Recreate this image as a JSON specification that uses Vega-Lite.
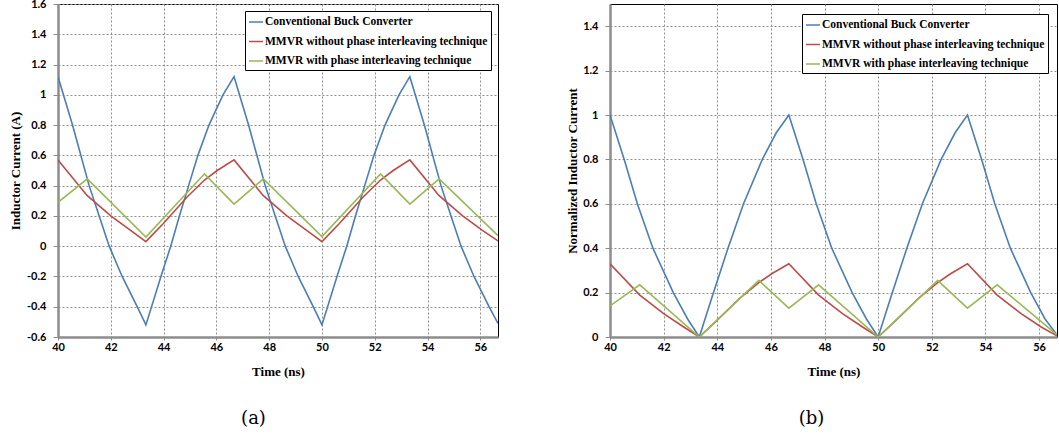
{
  "$schema": "https://vega.github.io/schema/vega-lite/v6.json",
  "padding": {"left": 8, "top": -3, "right": 0, "bottom": 0},
  "bounds": "flush",
  "spacing": 112,
  "datasets": {
    "a": [
      {"time": 40, "current": 1.12, "series": "Conventional Buck Converter"},
      {"time": 40.55, "current": 0.8, "series": "Conventional Buck Converter"},
      {"time": 41.18, "current": 0.4, "series": "Conventional Buck Converter"},
      {"time": 41.56, "current": 0.2, "series": "Conventional Buck Converter"},
      {"time": 41.94, "current": 0.0, "series": "Conventional Buck Converter"},
      {"time": 42.43, "current": -0.2, "series": "Conventional Buck Converter"},
      {"time": 43.0, "current": -0.4, "series": "Conventional Buck Converter"},
      {"time": 43.33, "current": -0.52, "series": "Conventional Buck Converter"},
      {"time": 43.9, "current": -0.2, "series": "Conventional Buck Converter"},
      {"time": 44.27, "current": 0.0, "series": "Conventional Buck Converter"},
      {"time": 44.6, "current": 0.2, "series": "Conventional Buck Converter"},
      {"time": 44.95, "current": 0.4, "series": "Conventional Buck Converter"},
      {"time": 45.3, "current": 0.6, "series": "Conventional Buck Converter"},
      {"time": 45.72, "current": 0.8, "series": "Conventional Buck Converter"},
      {"time": 46.25, "current": 1.0, "series": "Conventional Buck Converter"},
      {"time": 46.67, "current": 1.12, "series": "Conventional Buck Converter"},
      {"time": 47.22, "current": 0.8, "series": "Conventional Buck Converter"},
      {"time": 47.85, "current": 0.4, "series": "Conventional Buck Converter"},
      {"time": 48.23, "current": 0.2, "series": "Conventional Buck Converter"},
      {"time": 48.61, "current": 0.0, "series": "Conventional Buck Converter"},
      {"time": 49.1, "current": -0.2, "series": "Conventional Buck Converter"},
      {"time": 49.67, "current": -0.4, "series": "Conventional Buck Converter"},
      {"time": 50.0, "current": -0.52, "series": "Conventional Buck Converter"},
      {"time": 50.57, "current": -0.2, "series": "Conventional Buck Converter"},
      {"time": 50.94, "current": 0.0, "series": "Conventional Buck Converter"},
      {"time": 51.27, "current": 0.2, "series": "Conventional Buck Converter"},
      {"time": 51.62, "current": 0.4, "series": "Conventional Buck Converter"},
      {"time": 51.97, "current": 0.6, "series": "Conventional Buck Converter"},
      {"time": 52.39, "current": 0.8, "series": "Conventional Buck Converter"},
      {"time": 52.92, "current": 1.0, "series": "Conventional Buck Converter"},
      {"time": 53.33, "current": 1.12, "series": "Conventional Buck Converter"},
      {"time": 53.88, "current": 0.8, "series": "Conventional Buck Converter"},
      {"time": 54.51, "current": 0.4, "series": "Conventional Buck Converter"},
      {"time": 54.89, "current": 0.2, "series": "Conventional Buck Converter"},
      {"time": 55.27, "current": 0.0, "series": "Conventional Buck Converter"},
      {"time": 55.76, "current": -0.2, "series": "Conventional Buck Converter"},
      {"time": 56.33, "current": -0.4, "series": "Conventional Buck Converter"},
      {"time": 56.67, "current": -0.51, "series": "Conventional Buck Converter"},
      {"time": 40, "current": 0.57, "series": "MMVR without phase interleaving technique"},
      {"time": 41.1, "current": 0.335, "series": "MMVR without phase interleaving technique"},
      {"time": 42.0, "current": 0.2, "series": "MMVR without phase interleaving technique"},
      {"time": 42.75, "current": 0.105, "series": "MMVR without phase interleaving technique"},
      {"time": 43.33, "current": 0.03, "series": "MMVR without phase interleaving technique"},
      {"time": 43.99, "current": 0.15, "series": "MMVR without phase interleaving technique"},
      {"time": 44.89, "current": 0.325, "series": "MMVR without phase interleaving technique"},
      {"time": 45.55, "current": 0.437, "series": "MMVR without phase interleaving technique"},
      {"time": 46.03, "current": 0.5, "series": "MMVR without phase interleaving technique"},
      {"time": 46.67, "current": 0.57, "series": "MMVR without phase interleaving technique"},
      {"time": 47.77, "current": 0.335, "series": "MMVR without phase interleaving technique"},
      {"time": 48.67, "current": 0.2, "series": "MMVR without phase interleaving technique"},
      {"time": 49.42, "current": 0.105, "series": "MMVR without phase interleaving technique"},
      {"time": 50.0, "current": 0.03, "series": "MMVR without phase interleaving technique"},
      {"time": 50.66, "current": 0.15, "series": "MMVR without phase interleaving technique"},
      {"time": 51.56, "current": 0.325, "series": "MMVR without phase interleaving technique"},
      {"time": 52.22, "current": 0.437, "series": "MMVR without phase interleaving technique"},
      {"time": 52.7, "current": 0.5, "series": "MMVR without phase interleaving technique"},
      {"time": 53.33, "current": 0.57, "series": "MMVR without phase interleaving technique"},
      {"time": 54.43, "current": 0.335, "series": "MMVR without phase interleaving technique"},
      {"time": 55.33, "current": 0.2, "series": "MMVR without phase interleaving technique"},
      {"time": 56.08, "current": 0.105, "series": "MMVR without phase interleaving technique"},
      {"time": 56.67, "current": 0.035, "series": "MMVR without phase interleaving technique"},
      {"time": 40, "current": 0.29, "series": "MMVR with phase interleaving technique"},
      {"time": 41.11, "current": 0.445, "series": "MMVR with phase interleaving technique"},
      {"time": 43.33, "current": 0.06, "series": "MMVR with phase interleaving technique"},
      {"time": 45.55, "current": 0.478, "series": "MMVR with phase interleaving technique"},
      {"time": 46.67, "current": 0.278, "series": "MMVR with phase interleaving technique"},
      {"time": 47.78, "current": 0.445, "series": "MMVR with phase interleaving technique"},
      {"time": 50.0, "current": 0.063, "series": "MMVR with phase interleaving technique"},
      {"time": 52.22, "current": 0.478, "series": "MMVR with phase interleaving technique"},
      {"time": 53.33, "current": 0.278, "series": "MMVR with phase interleaving technique"},
      {"time": 54.44, "current": 0.445, "series": "MMVR with phase interleaving technique"},
      {"time": 56.67, "current": 0.07, "series": "MMVR with phase interleaving technique"}
    ],
    "b": [
      {"time": 40, "current": 1.0, "series": "Conventional Buck Converter"},
      {"time": 40.53, "current": 0.8, "series": "Conventional Buck Converter"},
      {"time": 41.02, "current": 0.6, "series": "Conventional Buck Converter"},
      {"time": 41.6, "current": 0.4, "series": "Conventional Buck Converter"},
      {"time": 42.36, "current": 0.2, "series": "Conventional Buck Converter"},
      {"time": 42.9, "current": 0.08, "series": "Conventional Buck Converter"},
      {"time": 43.33, "current": 0.0, "series": "Conventional Buck Converter"},
      {"time": 43.86, "current": 0.2, "series": "Conventional Buck Converter"},
      {"time": 44.4, "current": 0.4, "series": "Conventional Buck Converter"},
      {"time": 44.98, "current": 0.6, "series": "Conventional Buck Converter"},
      {"time": 45.68, "current": 0.8, "series": "Conventional Buck Converter"},
      {"time": 46.2, "current": 0.92, "series": "Conventional Buck Converter"},
      {"time": 46.67, "current": 1.0, "series": "Conventional Buck Converter"},
      {"time": 47.2, "current": 0.8, "series": "Conventional Buck Converter"},
      {"time": 47.69, "current": 0.6, "series": "Conventional Buck Converter"},
      {"time": 48.27, "current": 0.4, "series": "Conventional Buck Converter"},
      {"time": 49.03, "current": 0.2, "series": "Conventional Buck Converter"},
      {"time": 49.57, "current": 0.08, "series": "Conventional Buck Converter"},
      {"time": 50.0, "current": 0.0, "series": "Conventional Buck Converter"},
      {"time": 50.53, "current": 0.2, "series": "Conventional Buck Converter"},
      {"time": 51.07, "current": 0.4, "series": "Conventional Buck Converter"},
      {"time": 51.65, "current": 0.6, "series": "Conventional Buck Converter"},
      {"time": 52.35, "current": 0.8, "series": "Conventional Buck Converter"},
      {"time": 52.87, "current": 0.92, "series": "Conventional Buck Converter"},
      {"time": 53.33, "current": 1.0, "series": "Conventional Buck Converter"},
      {"time": 53.86, "current": 0.8, "series": "Conventional Buck Converter"},
      {"time": 54.35, "current": 0.6, "series": "Conventional Buck Converter"},
      {"time": 54.93, "current": 0.4, "series": "Conventional Buck Converter"},
      {"time": 55.69, "current": 0.2, "series": "Conventional Buck Converter"},
      {"time": 56.23, "current": 0.08, "series": "Conventional Buck Converter"},
      {"time": 56.67, "current": 0.01, "series": "Conventional Buck Converter"},
      {"time": 40, "current": 0.33, "series": "MMVR without phase interleaving technique"},
      {"time": 41.1, "current": 0.19, "series": "MMVR without phase interleaving technique"},
      {"time": 42.0, "current": 0.105, "series": "MMVR without phase interleaving technique"},
      {"time": 42.75, "current": 0.045, "series": "MMVR without phase interleaving technique"},
      {"time": 43.33, "current": 0.0, "series": "MMVR without phase interleaving technique"},
      {"time": 43.99, "current": 0.075, "series": "MMVR without phase interleaving technique"},
      {"time": 44.89, "current": 0.18, "series": "MMVR without phase interleaving technique"},
      {"time": 45.55, "current": 0.245, "series": "MMVR without phase interleaving technique"},
      {"time": 46.03, "current": 0.285, "series": "MMVR without phase interleaving technique"},
      {"time": 46.67, "current": 0.33, "series": "MMVR without phase interleaving technique"},
      {"time": 47.77, "current": 0.19, "series": "MMVR without phase interleaving technique"},
      {"time": 48.67, "current": 0.105, "series": "MMVR without phase interleaving technique"},
      {"time": 49.42, "current": 0.045, "series": "MMVR without phase interleaving technique"},
      {"time": 50.0, "current": 0.0, "series": "MMVR without phase interleaving technique"},
      {"time": 50.66, "current": 0.075, "series": "MMVR without phase interleaving technique"},
      {"time": 51.56, "current": 0.18, "series": "MMVR without phase interleaving technique"},
      {"time": 52.22, "current": 0.245, "series": "MMVR without phase interleaving technique"},
      {"time": 52.7, "current": 0.285, "series": "MMVR without phase interleaving technique"},
      {"time": 53.33, "current": 0.33, "series": "MMVR without phase interleaving technique"},
      {"time": 54.43, "current": 0.19, "series": "MMVR without phase interleaving technique"},
      {"time": 55.33, "current": 0.105, "series": "MMVR without phase interleaving technique"},
      {"time": 56.08, "current": 0.045, "series": "MMVR without phase interleaving technique"},
      {"time": 56.67, "current": 0.005, "series": "MMVR without phase interleaving technique"},
      {"time": 40, "current": 0.14, "series": "MMVR with phase interleaving technique"},
      {"time": 41.11, "current": 0.235, "series": "MMVR with phase interleaving technique"},
      {"time": 43.33, "current": 0.0, "series": "MMVR with phase interleaving technique"},
      {"time": 45.55, "current": 0.255, "series": "MMVR with phase interleaving technique"},
      {"time": 46.67, "current": 0.13, "series": "MMVR with phase interleaving technique"},
      {"time": 47.78, "current": 0.235, "series": "MMVR with phase interleaving technique"},
      {"time": 50.0, "current": 0.0, "series": "MMVR with phase interleaving technique"},
      {"time": 52.22, "current": 0.255, "series": "MMVR with phase interleaving technique"},
      {"time": 53.33, "current": 0.13, "series": "MMVR with phase interleaving technique"},
      {"time": 54.44, "current": 0.235, "series": "MMVR with phase interleaving technique"},
      {"time": 56.67, "current": 0.01, "series": "MMVR with phase interleaving technique"}
    ]
  },
  "config": {
    "view": {"stroke": "black", "strokeWidth": 1},
    "axis": {
      "labelFont": "Lato", "labelFontWeight": "bold", "labelFontSize": 11, "labelColor": "black",
      "titleFont": "Liberation Serif", "titleFontWeight": "bold", "titleFontSize": 13, "titleColor": "black",
      "gridColor": "#8f8f8f", "gridDash": [2, 2], "gridWidth": 1, "gridOpacity": 1,
      "domainColor": "#8c8c8c", "domainWidth": 2.5,
      "tickColor": "#8c8c8c", "tickWidth": 1
    },
    "legend": {
      "labelFont": "Liberation Serif", "labelFontWeight": "bold", "labelFontSize": 11.5, "labelColor": "black",
      "labelLimit": 400, "symbolType": "stroke", "symbolSize": 196, "symbolStrokeWidth": 1.5,
      "strokeColor": "black", "fillColor": "white", "padding": 3, "rowPadding": 5.5, "labelOffset": 1, "cornerRadius": 0
    },
    "title": {"font": "DejaVu Serif", "fontSize": 18, "fontWeight": "normal", "color": "black"}
  },
  "resolve": {"scale": {"color": "independent"}, "legend": {"color": "independent"}},
  "hconcat": [
    {
      "width": 440, "height": 333,
      "title": {"text": "(a)", "orient": "bottom", "frame": "bounds", "anchor": "middle", "offset": 32},
      "data": {"name": "a"},
      "mark": {"type": "line", "strokeWidth": 1.6, "clip": true},
      "encoding": {
        "x": {"field": "time", "type": "quantitative",
              "scale": {"domain": [40, 56.67], "nice": false, "zero": false},
              "axis": {"title": "Time (ns)", "values": [40, 42, 44, 46, 48, 50, 52, 54, 56], "labelFlush": false, "tickSize": 3, "labelPadding": 1, "titlePadding": 13}},
        "y": {"field": "current", "type": "quantitative",
              "scale": {"domain": [-0.6, 1.6], "nice": false, "zero": false},
              "axis": {"title": "Inductor Current (A)", "values": [-0.6, -0.4, -0.2, 0, 0.2, 0.4, 0.6, 0.8, 1, 1.2, 1.4, 1.6],
                       "labelExpr": "toString(datum.value)", "labelFlush": false, "tickSize": 5, "labelPadding": 7, "titleX": -43, "titleBaseline": "middle"}},
        "color": {"field": "series", "type": "nominal",
                  "scale": {"domain": ["Conventional Buck Converter", "MMVR without phase interleaving technique", "MMVR with phase interleaving technique"],
                            "range": ["#4a7ebb", "#be4b48", "#98b954"]},
                  "legend": {"orient": "top-right", "offset": 7, "title": null}}
      }
    },
    {
      "width": 447, "height": 333,
      "title": {"text": "(b)", "orient": "bottom", "frame": "bounds", "anchor": "middle", "offset": 32},
      "data": {"name": "b"},
      "mark": {"type": "line", "strokeWidth": 1.6, "clip": true},
      "encoding": {
        "x": {"field": "time", "type": "quantitative",
              "scale": {"domain": [40, 56.67], "nice": false, "zero": false},
              "axis": {"title": "Time (ns)", "values": [40, 42, 44, 46, 48, 50, 52, 54, 56], "labelFlush": false, "tickSize": 3, "labelPadding": 1, "titlePadding": 13}},
        "y": {"field": "current", "type": "quantitative",
              "scale": {"domain": [0, 1.5], "nice": false, "zero": false},
              "axis": {"title": "Normalized Inductor Current", "values": [0, 0.2, 0.4, 0.6, 0.8, 1, 1.2, 1.4],
                       "labelExpr": "toString(datum.value)", "labelFlush": false, "tickSize": 5, "labelPadding": 7, "titleX": -38, "titleBaseline": "middle"}},
        "color": {"field": "series", "type": "nominal",
                  "scale": {"domain": ["Conventional Buck Converter", "MMVR without phase interleaving technique", "MMVR with phase interleaving technique"],
                            "range": ["#4a7ebb", "#be4b48", "#98b954"]},
                  "legend": {"orient": "top-right", "offset": 9.5, "title": null}}
      }
    }
  ]
}
